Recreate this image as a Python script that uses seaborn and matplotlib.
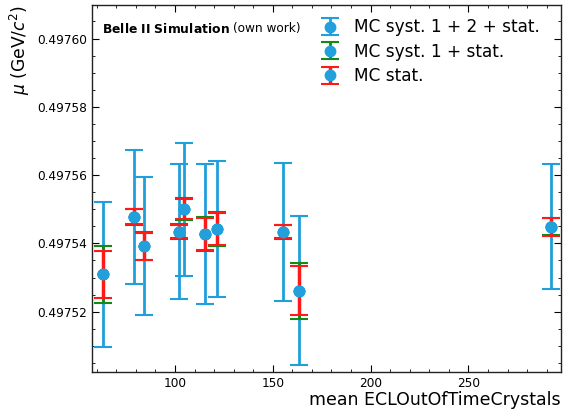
import numpy as np
import pandas as pd
import seaborn as sns
import matplotlib
matplotlib.use("Agg")
import matplotlib.pyplot as plt
from matplotlib.ticker import MultipleLocator

# ---- data ----
x_vals = [63.0, 79.0, 84.1, 102.2, 104.6, 115.2, 121.6, 155.4, 163.4, 292.1]
mu_vals = [0.4975309, 0.4975478, 0.4975391, 0.4975434, 0.4975500,
           0.4975427, 0.4975442, 0.4975434, 0.4975261, 0.4975449]
err_syst12_stat = [2.114e-5, 1.962e-5, 2.02e-5, 1.976e-5, 1.941e-5,
                   2.041e-5, 1.991e-5, 2.02e-5, 2.181e-5, 1.836e-5]
err_syst1_stat = [8.26e-6, 2.34e-6, 4.10e-6, 2.25e-6, 3.22e-6,
                  4.89e-6, 4.98e-6, 2.05e-6, 8.26e-6, 2.55e-6]
err_stat = [6.84e-6, 2.20e-6, 3.89e-6, 1.84e-6, 2.99e-6,
            4.60e-6, 4.68e-6, 1.90e-6, 7.17e-6, 2.60e-6]
labels = ["MC syst. 1 + 2 + stat.", "MC syst. 1 + stat.", "MC stat."]

df = pd.DataFrame({"x": x_vals, "mu": mu_vals})

sns.set_style("ticks")
plt.rcParams['font.family'] = ['DejaVu Sans']
plt.rcParams['text.color'] = 'black'
plt.rcParams['axes.labelcolor'] = 'black'
plt.rcParams['xtick.color'] = 'black'
plt.rcParams['ytick.color'] = 'black'
plt.rcParams['axes.edgecolor'] = '#222222'

fig = plt.figure(figsize=(5.69, 4.20), dpi=100)
ax = fig.add_axes([0.162, 0.114, 0.8235, 0.874])

blue = "#1f9fdc"
green = "#138a13"
red = "#ff1a1a"
pt = "#21a0dc"

h1 = ax.errorbar(x_vals, mu_vals, yerr=err_syst12_stat, fmt="o", color=pt,
                 ecolor=blue, elinewidth=2, capsize=6.5, capthick=1.5,
                 markersize=7.5, label=labels[0], zorder=2)
h2 = ax.errorbar(x_vals, mu_vals, yerr=err_syst1_stat, fmt="o", color=pt,
                 ecolor=green, elinewidth=2, capsize=6.5, capthick=1.5,
                 markersize=7.5, label=labels[1], zorder=3)
h3 = ax.errorbar(x_vals, mu_vals, yerr=err_stat, fmt="o", color=pt,
                 ecolor=red, elinewidth=2.5, capsize=6.5, capthick=1.5,
                 markersize=7.5, label=labels[2], zorder=4)
sns.scatterplot(data=df, x="x", y="mu", ax=ax, color=pt, s=58,
                edgecolor="none", zorder=5, legend=False)

ax.set_xlim(57.7, 297.2)
ax.set_ylim(0.4975023, 0.4976098)
ax.yaxis.set_major_locator(MultipleLocator(2e-5))
ax.yaxis.set_minor_locator(MultipleLocator(5e-6))
ax.xaxis.set_major_locator(MultipleLocator(50))
ax.xaxis.set_minor_locator(MultipleLocator(10))
ax.yaxis.set_major_formatter(matplotlib.ticker.FormatStrFormatter("%.5f"))
ax.tick_params(which="both", direction="in", top=True, right=True, labelsize=8.7)
ax.tick_params(which="major", length=5)
ax.tick_params(which="minor", length=2.5)
for s in ax.spines.values():
    s.set_linewidth(1.0)

ax.set_xlabel("mean ECLOutOfTimeCrystals", fontsize=12.5, loc="right", labelpad=1)
ax.set_ylabel(r"$\mu$ (GeV/$c^2$)", fontsize=12.3, loc="top")

ax.text(0.021, 0.935, r"$\bf{Belle\ II\ Simulation}$", transform=ax.transAxes,
        fontsize=8.9, va="center", ha="left")
ax.text(0.301, 0.935, "(own work)", transform=ax.transAxes,
        fontsize=8.7, va="center", ha="left")

ax.legend(handles=[h1, h2, h3], labels=labels, loc="upper right", frameon=False,
          fontsize=12.2, bbox_to_anchor=(0.988, 1.005), handletextpad=0.8,
          labelspacing=0.38, handlelength=1.2)

fig.savefig("out.png", dpi=100)
